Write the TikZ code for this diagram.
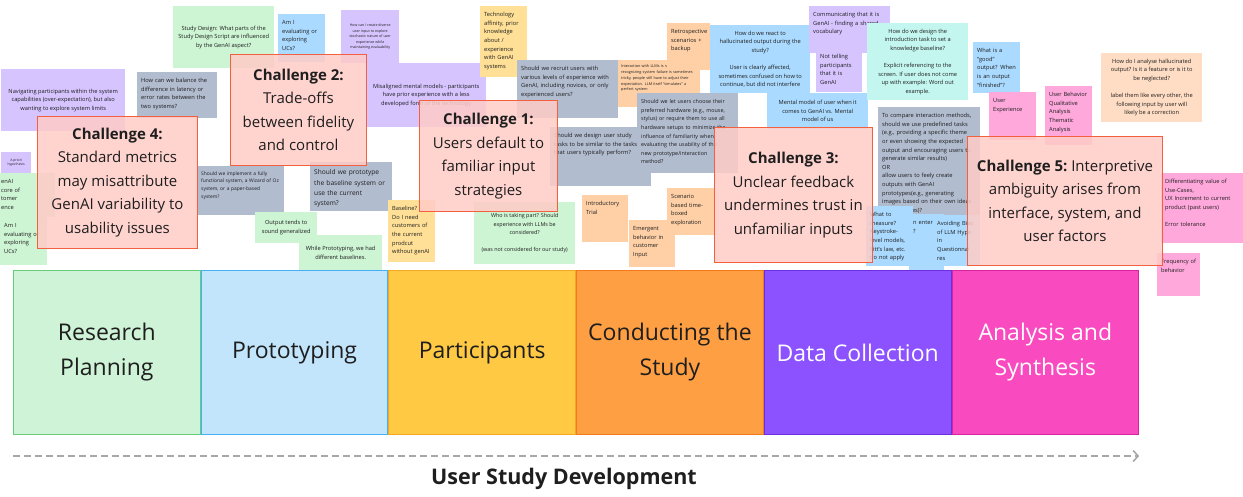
\documentclass[tikz,border=0pt]{standalone}
\usepackage{fontspec}
\setmainfont{Open Sans}
\usetikzlibrary{positioning,arrows.meta}
\definecolor{ink}{HTML}{1E1E1E}
\definecolor{stgreen}{HTML}{CDF4D3}
\definecolor{stblue}{HTML}{AADAFF}
\definecolor{stslate}{HTML}{B1BCCF}
\definecolor{stlav}{HTML}{D6C4FF}
\definecolor{styellow}{HTML}{FFE096}
\definecolor{storange}{HTML}{FFD0A6}
\definecolor{stpeach}{HTML}{FFDDC4}
\definecolor{stcyan}{HTML}{C4F6F0}
\definecolor{stpink}{HTML}{FFA8DC}
\definecolor{chfill}{HTML}{FFCCC7}
\definecolor{chline}{HTML}{F2603F}
\definecolor{planfill}{HTML}{CFF3D6}
\definecolor{planline}{HTML}{66CC77}
\definecolor{protofill}{HTML}{C2E5FC}
\definecolor{protoline}{HTML}{45B0F5}
\definecolor{partfill}{HTML}{FFC943}
\definecolor{partline}{HTML}{F5A623}
\definecolor{condfill}{HTML}{FF9F43}
\definecolor{condline}{HTML}{F27A1A}
\definecolor{datafill}{HTML}{8C52FF}
\definecolor{dataline}{HTML}{6B2FE0}
\definecolor{anafill}{HTML}{F94AC0}
\definecolor{analine}{HTML}{D6249E}
\definecolor{arrowgray}{HTML}{A8A8A8}
\newcommand{\notefont}{\fontsize{5.7}{8.6}\selectfont}
\newcommand{\chfont}{\fontsize{15}{23.5}\selectfont}
\newcommand{\stagefont}{\fontsize{23}{35}\selectfont}
\tikzstyle{sticky} = [rectangle, anchor=north west, inner sep=4pt, font=\notefont, text=ink]
\tikzstyle{lnote} = [sticky, align=left, text height=6.5pt]
\tikzstyle{cnote} = [sticky, align=center]
\tikzstyle{challenge} = [rectangle, anchor=north west, draw=chline, line width=0.9pt, fill=chfill, fill opacity=0.85, text opacity=1, text=ink, font=\chfont, align=center]
\tikzstyle{stage} = [rectangle, anchor=north west, minimum width=186.7pt, minimum height=164pt, line width=1pt, font=\stagefont, align=center]
\tikzstyle{timeline} = [line width=1.6pt, draw=arrowgray, dash pattern=on 7pt off 4pt, -{Straight Barb[length=5pt,width=11pt]}]

\begin{document}
\begin{tikzpicture}[x=1pt, y=-1pt, node distance=0pt]
        \useasboundingbox (0,0) rectangle (1243,496);
        \clip (0,0) rectangle (1243,496);
        % Notes, left part
        \node (navigating) [cnote, fill=stlav, minimum width=124pt, minimum height=62pt] at (1,69) {Navigating participants within the system\\capabilities (over-expectation), but also\\wanting to explore system limits};
        \node (apriori) [cnote, fill=stlav, font=\fontsize{3.4}{4.8}\selectfont, minimum width=30pt, minimum height=21pt] at (1,152) {A priori\\hypothesis};
        \node (genai) [lnote, fill=stgreen, text width=50pt, text depth=29.5pt] at (-3,173) {enAI\\core of\\tomer\\ence};
        \node (evalgreen) [lnote, fill=stgreen, text width=39pt, text depth=33.5pt] at (0,217) {Am I\\evaluating or\\exploring\\UCs?};
        \node (balance) [lnote, fill=stslate, text width=72pt, text depth=31.5pt] at (137,72) {How can we balance the\\difference in latency or\\error rates between the\\two systems?};
        \node (scriptdesign) [cnote, fill=stgreen, minimum width=101pt, minimum height=62pt] at (173,6) {Study Design: What parts of the\\Study Design Script are influenced\\by the GenAI aspect?};
        \node (evalblue) [lnote, fill=stblue, text width=39pt, text depth=33.5pt] at (278,14) {Am I\\evaluating or\\exploring\\UCs?};
        \node (diverse) [cnote, fill=stlav, font=\fontsize{3.6}{5.5}\selectfont, minimum width=58pt, minimum height=53pt] at (341,10) {How can I create diverse\\user input to explore\\stochastic nature of user\\experience while\\maintaining evaluability};
        \node (misaligned) [cnote, fill=stlav, minimum width=120pt, minimum height=64pt] at (366,63) {Misaligned mental models - participants\\have prior experience with a less\\developed form of the technology};
        \node (implement) [lnote, fill=stslate, font=\fontsize{4.9}{7.6}\selectfont, text height=5pt, text width=79pt, text depth=36pt] at (197,166) {Should we implement a fully\\functional system, a Wizard of Oz\\system, or a paper-based\\system?};
        \node (prototype) [lnote, fill=stslate, font=\fontsize{6.6}{10.3}\selectfont, text height=8.5pt, text width=74pt, text depth=32.5pt] at (310,162) {Should we prototype\\the baseline system or\\use the current\\system?};
        \node (generalized) [cnote, fill=stgreen, minimum width=62pt, minimum height=31pt] at (255,212) {Output tends to\\sound generalized};
        \node (baselines) [cnote, fill=stgreen, minimum width=83pt, minimum height=35pt] at (299,235) {While Prototyping, we had\\different baselines.};
        % Notes, middle part
        \node (affinity) [lnote, fill=styellow, text width=39pt, text depth=56.5pt] at (480,6) {Technology\\affinity, prior\\knowledge\\about /\\experience\\with GenAI\\systems};
        \node (recruit) [lnote, fill=stslate, text width=93pt, text depth=43.5pt] at (517,60) {Should we recruit users with\\various levels of experience with\\GenAI, including novices, or only\\experienced users?};
        \node (baseline) [lnote, fill=styellow, text width=39pt, text depth=47.5pt] at (388,200) {Baseline?\\Do I need\\customers of\\the current\\prodcut\\without genAI};
        \node (whopart) [cnote, fill=stgreen, font=\fontsize{5.4}{8.6}\selectfont, minimum width=101pt, minimum height=62pt] at (474,202) {Who is taking part? Should\\experience with LLMs be\\considered?\\[8.6pt](was not considered for our study)};
        \node (similar) [lnote, fill=stslate, text width=93pt, text depth=44.5pt] at (550,127) {Should we design user study\\tasks to be similar to the tasks\\that users typically perform?};
        \node (introtrial) [lnote, fill=storange, text width=38pt, text depth=32.5pt] at (582,195) {Introductory\\Trial};
        \node (emergent) [lnote, fill=storange, text width=38pt, text depth=32.5pt] at (629,220) {Emergent\\behavior in\\customer\\Input};
        \node (timeboxed) [lnote, fill=storange, text width=39pt, text depth=32.5pt] at (667,188) {Scenario\\based time-\\boxed\\exploration};
        \node (llmnew) [lnote, fill=storange, font=\fontsize{3.8}{5.8}\selectfont, inner sep=3pt, text height=4.5pt, text width=76pt, text depth=36.5pt] at (618,60) {Interaction with LLMs is still very new -\\recognizing system failure is sometimes\\tricky, people still have to adjust their\\expectation. LLM itself ``simulates'' a\\perfect system};
        \node (retro) [lnote, fill=storange, text width=35pt, text depth=32.5pt] at (667,23) {Retrospective\\scenarios +\\backup};
        \node (hardware) [lnote, fill=stslate, font=\fontsize{5.4}{8.6}\selectfont, text width=93pt, text depth=65.5pt] at (637,93) {Should we let users choose their\\preferred hardware (e.g., mouse,\\stylus) or require them to use all\\hardware setups to minimize the\\influence of familiarity when\\evaluating the usability of the\\new prototype/interaction\\method?};
        \node (react) [cnote, fill=stblue, minimum width=100pt, minimum height=68pt] at (710,25) {How do we react to\\hallucinated output during the\\study?\\[8.6pt]User is clearly affected,\\sometimes confused on how to\\continue, but did not interfere};
        \node (mental) [cnote, fill=stblue, minimum width=101pt, minimum height=36pt] at (767,93) {Mental model of user when it\\comes to GenAI vs. Mental\\model of us};
        % Notes, right part
        \node (nottelling) [lnote, fill=stlav, text width=38pt, text depth=29.5pt] at (816,48) {Not telling\\participants\\that it is\\GenAI};
        \node (vocabulary) [lnote, fill=stlav, text width=73pt, text depth=32.5pt] at (809,6) {Communicating that it is\\GenAI - finding a shared\\vocabulary};
        \node (intro) [cnote, fill=stcyan, minimum width=101pt, minimum height=77pt] at (867,23) {How do we design the\\introduction task to set a\\knowledge baseline?\\[8.6pt]Explicit referencing to the\\screen. If user does not come\\up with example: Word out\\example.};
        \node (goodoutput) [lnote, fill=stblue, text width=39pt, text depth=36.5pt] at (973,42) {What is a\\“good”\\output? When\\is an output\\“finished”?};
        \node (ux) [lnote, fill=stpink, text width=39pt, text depth=33.5pt] at (989,92) {User\\Experience};
        \node (behavior) [lnote, fill=stpink, text width=39pt, text depth=44.5pt] at (1045,86) {User Behavior\\Qualitative\\Analysis\\Thematic\\Analysis};
        \node (hallucinated) [cnote, fill=stpeach, minimum width=101pt, minimum height=69pt] at (1101,53) {How do I analyse hallucinated\\output? Is it a feature or is it to\\be neglected?\\[8.6pt]label them like every other, the\\following input by user will\\likely be a correction};
        \node (compare) [lnote, fill=stslate, text width=94pt, text depth=98.5pt] at (878,107) {To compare interaction methods,\\should we use predefined tasks\\(e.g., providing a specific theme\\or even showing the expected\\output and encouraging users to\\generate similar results)\\OR\\allow users to feely create\\outputs with GenAI\\prototypes(e.g., generating\\images based on their own ideas\\or references)?};
        \node (enter) [lnote, fill=stblue, text width=27pt, text depth=44.5pt] at (909,214) {n enter\\?};
        \node (measure) [lnote, fill=stblue, text width=39pt, text depth=45.5pt] at (866,206) {What to\\measure?\\Keystroke-\\level models,\\Fitt's law, etc.\\do not apply};
        \node (bias) [lnote, fill=stblue, text width=39pt, text depth=36.5pt] at (933,215) {Avoiding Bias\\of LLM Hype\\in\\Questionnai\\res};
        \node (usecases) [lnote, fill=stpink, text width=82pt, text depth=55.5pt] at (1161,173) {Differentiating value of\\Use-Cases,\\UX Increment to current\\product (past users)\\[8.6pt]Error tolerance};
        \node (frequency) [lnote, fill=stpink, text width=35pt, text depth=28.5pt] at (1157,253) {Frequency of\\behavior};
        % Challenges
        \node (chal4) [challenge, minimum width=160pt, minimum height=132pt] at (37,116) {\textbf{Challenge 4:}\\Standard metrics\\may misattribute\\GenAI variability to\\usability issues};
        \node (chal2) [challenge, minimum width=136pt, minimum height=111pt] at (230,54) {\textbf{Challenge 2:}\\Trade-offs\\between fidelity\\and control};
        \node (chal1) [challenge, minimum width=138pt, minimum height=111pt] at (419,100) {\textbf{Challenge 1:}\\Users default to\\familiar input\\strategies};
        \node (chal3) [challenge, minimum width=158pt, minimum height=135pt] at (714,127) {\textbf{Challenge 3:}\\Unclear feedback\\undermines trust in\\unfamiliar inputs};
        \node (chal5) [challenge, minimum width=195pt, minimum height=129pt] at (967,136) {\textbf{Challenge 5:}~Interpretive\\ambiguity arises from\\interface, system, and\\user factors};
        % Study stages
        \node (plan) [stage, fill=planfill, draw=planline, text=ink] at (13,270) {Research\\Planning};
        \node (proto) [stage, fill=protofill, draw=protoline, text=ink, right=of plan] {Prototyping};
        \node (part) [stage, fill=partfill, draw=partline, text=ink, right=of proto] {Participants};
        \node (cond) [stage, fill=condfill, draw=condline, text=ink, right=of part] {Conducting the\\Study};
        \node (data) [stage, fill=datafill, draw=dataline, text=white, right=of cond] {Data Collection};
        \node (ana) [stage, fill=anafill, draw=analine, text=white, right=of data] {Analysis and\\Synthesis};
        % Timeline
        \draw [timeline] ([yshift=-21pt]plan.south west) -- ([yshift=-21pt]ana.south east);
        \node (title) [font=\fontsize{21.5}{26}\selectfont\bfseries, text=ink] at (564,479) {User Study Development};
    \end{tikzpicture}
\end{document}
